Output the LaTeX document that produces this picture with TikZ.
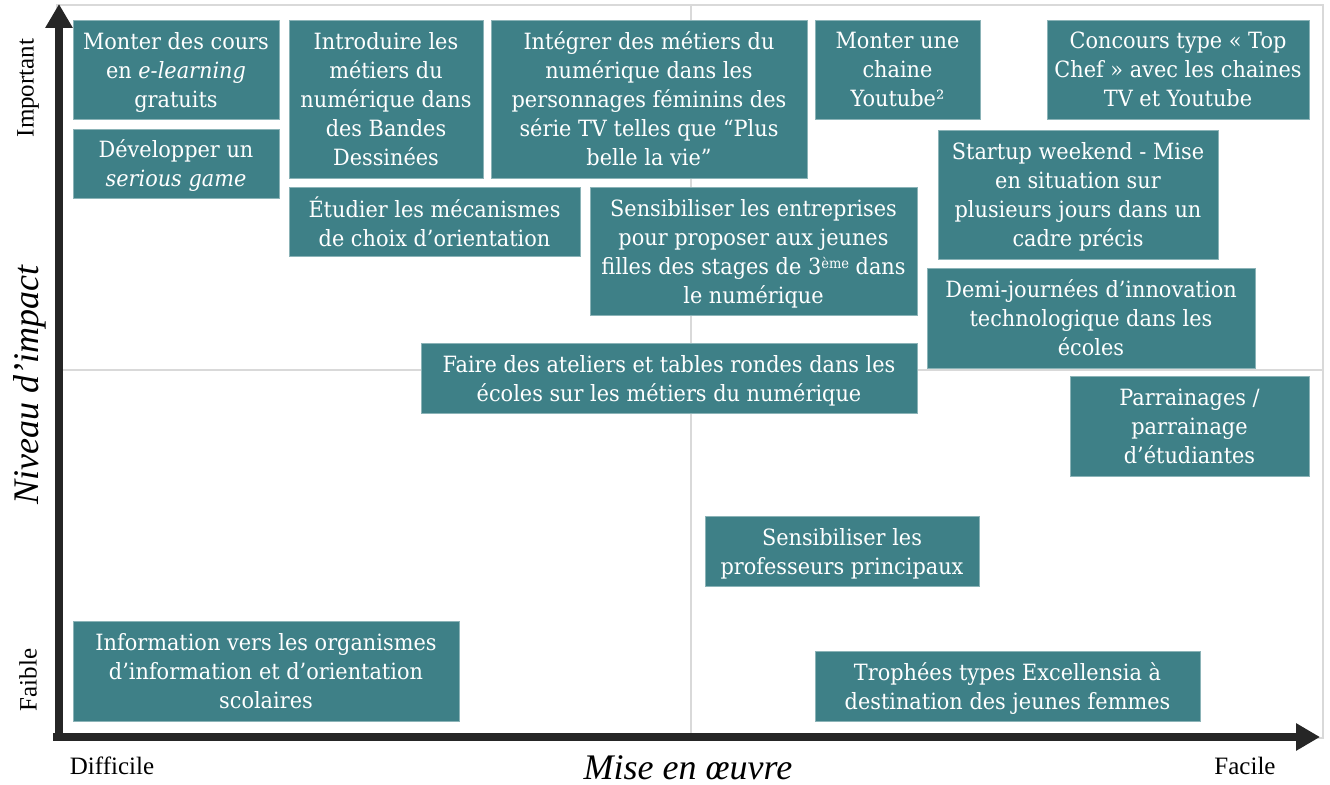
\documentclass[tikz,border=0pt]{standalone}
\usepackage{fontspec}
\setmainfont{Liberation Serif}
\newfontfamily\boxfont[FakeStretch=0.93]{DejaVu Serif}
\usetikzlibrary{arrows.meta}
\definecolor{teal}{RGB}{62,128,135}
\definecolor{framegray}{RGB}{217,217,217}
\definecolor{axisblack}{RGB}{38,38,38}
\newcommand\qbox[6]{\node[qbox, minimum width={(#4-#2)*0.5pt}, minimum height={(#5-#3)*0.5pt}] (#1) at ({(#2+#4)/2},{(#3+#5)/2}) {#6};}
\begin{document}
\begin{tikzpicture}[x=0.5pt,y=-0.5pt,
  qbox/.style={fill=teal, draw=teal!60!white, line width=0.4pt, text=white, align=center, inner sep=0pt,
    text depth=0pt, font=\boxfont\fontsize{11.2}{14.5}\selectfont},
  frame/.style={draw=framegray, line width=1pt},
  axis/.style={draw=axisblack, line width=4pt, -{Triangle[width=13pt,length=12pt]}},
  axlabel/.style={font=\fontsize{12.5}{15}\selectfont, text=black, inner sep=0pt},
  axtitle/.style={font=\fontsize{18}{21}\itshape, text=black, inner sep=0pt}]
\useasboundingbox (0,0) rectangle (1330,785);
% frame and quadrant lines
\draw[frame] (57,5) rectangle (1323,738);
\draw[frame] (691,5) -- (691,738);
\draw[frame] (57,370) -- (1323,370);
% boxes
\qbox{b1}{73}{20}{279}{119}{Monter des cours\\en \textit{e-learning}\\gratuits}
\qbox{b2}{73}{129}{279}{198}{Développer un\\\textit{serious game}}
\qbox{b3}{289}{20}{483}{178}{Introduire les\\métiers du\\numérique dans\\des Bandes\\Dessinées}
\qbox{b4}{491}{20}{807}{178}{Intégrer des métiers du\\numérique dans les\\personnages féminins des\\série TV telles que “Plus\\belle la vie”}
\qbox{b5}{815}{20}{980}{119}{Monter une\\chaine\\Youtube²}
\qbox{b6}{1047}{20}{1309}{119}{Concours type « Top\\Chef » avec les chaines\\TV et Youtube}
\qbox{b7}{289}{187}{580}{256}{Étudier les mécanismes\\de choix d’orientation}
\qbox{b8}{590}{187}{917}{315}{Sensibiliser les entreprises\\pour proposer aux jeunes\\filles des stages de 3{\fontsize{7}{8}\selectfont\raisebox{0.7ex}{ème}} dans\\le numérique}
\qbox{b9}{938}{130}{1218}{259}{Startup weekend - Mise\\en situation sur\\plusieurs jours dans un\\cadre précis}
\qbox{b10}{927}{268}{1255}{368}{Demi-journées d’innovation\\technologique dans les\\écoles}
\qbox{b11}{421}{343}{917}{413}{Faire des ateliers et tables rondes dans les\\écoles sur les métiers du numérique}
\qbox{b12}{1070}{376}{1309}{476}{Parrainages /\\parrainage\\d’étudiantes}
\qbox{b13}{705}{516}{979}{586}{Sensibiliser les\\professeurs principaux}
\qbox{b14}{73}{621}{459}{721}{Information vers les organismes\\d’information et d’orientation\\scolaires}
\qbox{b15}{815}{651}{1200}{721}{Trophées types Excellensia à\\destination des jeunes femmes}
% axes
\coordinate (origin) at (59,737);
\coordinate (ytip) at (59,4);
\coordinate (xstart) at (53,737);
\coordinate (xtip) at (1320,737);
\draw[axis] (origin) -- (ytip);
\draw[axis] (xstart) -- (xtip);
% labels
\node[axlabel, rotate=90] (imp) at (28,88) {Important};
\node[axlabel, rotate=90] (fai) at (28,680) {Faible};
\node[axtitle, rotate=90] (niv) at (30,385) {Niveau d’impact};
\node[axlabel] (dif) at (112,766) {Difficile};
\node[axlabel] (fac) at (1245,766) {Facile};
\node[axtitle] (mise) at (688,768) {Mise en œuvre};
\end{tikzpicture}
\end{document}
